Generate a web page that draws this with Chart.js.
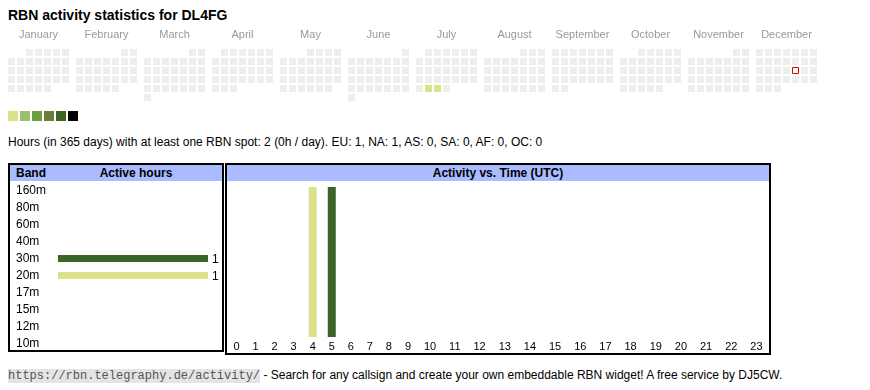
<!DOCTYPE html>
<html>
<head>
<meta charset="utf-8">
<script src="https://cdn.jsdelivr.net/npm/chart.js@4.4.1/dist/chart.umd.min.js"></script>
<style>
  body { margin: 0; background: #fff; font-family: "Liberation Sans", Arial, sans-serif; color: #000; }
  .abs { position: absolute; }
  #title { left: 8px; top: 7px; font-size: 14px; font-weight: bold; line-height: 16px; white-space: nowrap; }
  #summary { left: 8px; top: 135px; font-size: 12px; line-height: 14px; white-space: nowrap; }
  .swatch { position: absolute; top: 111px; width: 10px; height: 10px; }
  .box { position: absolute; box-sizing: border-box; border: 2px solid #000; background: #fff; }
  .head { position: absolute; left: 0; right: 0; top: 0; height: 16px; background: #aabbff; font-size: 12px; font-weight: bold; line-height: 16px; }
  .head span { position: absolute; white-space: nowrap; }
  #footer { left: 8px; top: 368px; font-size: 12px; line-height: 14px; white-space: nowrap; }
  #footer code { font-family: "Liberation Mono", "Courier New", monospace; color: #555; background: #e4e4e4; font-size: 12px; }
  canvas { position: absolute; }
</style>
</head>
<body>
<div id="title" class="abs">RBN activity statistics for DL4FG</div>
<canvas id="calendar" width="830" height="83" style="left:0px; top:26px;"></canvas>
<div id="legend"></div>
<div id="summary" class="abs">Hours (in 365 days) with at least one RBN spot: 2 (0h / day). EU: 1, NA: 1, AS: 0, SA: 0, AF: 0, OC: 0</div>

<div class="box" style="left:8px; top:163px; width:216px; height:189px;">
  <div class="head"><span style="left:6px;">Band</span><span style="left:46px; width:160px; text-align:center;">Active hours</span></div>
  <canvas id="bands" width="212" height="172" style="left:0px; top:16px;"></canvas>
</div>
<div class="box" style="left:225px; top:163px; width:546px; height:192px;">
  <div class="head"><span style="left:0; right:0; text-align:center;">Activity vs. Time (UTC)</span></div>
  <canvas id="hours" width="542" height="172" style="left:0px; top:16px;"></canvas>
</div>

<div id="footer" class="abs"><code>https://rbn.telegraphy.de/activity/</code> - Search for any callsign and create your own embeddable RBN widget! A free service by DJ5CW.</div>

<script>
// Calendar data
var year = 2025;
var monthNames = ['January', 'February', 'March', 'April', 'May', 'June', 'July',
                  'August', 'September', 'October', 'November', 'December'];
var activeDays = ['2025-07-29', '2025-07-30'];
var activeDayHours = [1, 1];
var today = '2025-12-19';
var levelColors = ['#dce28c', '#9dc168', '#6a9f44', '#687c3c', '#3c6426', '#000000'];

// Band data
var bands = ['160m', '80m', '60m', '40m', '30m', '20m', '17m', '15m', '12m', '10m'];
var bandHours = [0, 0, 0, 0, 1, 1, 0, 0, 0, 0];
var bandColors = ['#b0b0b0', '#b0b0b0', '#b0b0b0', '#b0b0b0', '#3c6426', '#dce28c',
                  '#b0b0b0', '#b0b0b0', '#b0b0b0', '#b0b0b0'];

// Activity per hour (UTC), one array per band
var hourLabels = ['0', '1', '2', '3', '4', '5', '6', '7', '8', '9', '10', '11',
                  '12', '13', '14', '15', '16', '17', '18', '19', '20', '21', '22', '23'];
var hours20m = [0, 0, 0, 0, 1, 0, 0, 0, 0, 0, 0, 0, 0, 0, 0, 0, 0, 0, 0, 0, 0, 0, 0, 0];
var hours30m = [0, 0, 0, 0, 0, 1, 0, 0, 0, 0, 0, 0, 0, 0, 0, 0, 0, 0, 0, 0, 0, 0, 0, 0];

Chart.defaults.font.family = '"Liberation Sans", Arial, sans-serif';

// calendar grid geometry
var LEFT = 8, MONTH_W = 68, PITCH = 9, CELL = 7;

function pad2(n) { return (n < 10 ? '0' : '') + n; }

var calPoints = [], calColors = [], todayPoint = [];
for (var m = 0; m < 12; m++) {
    var days = new Date(Date.UTC(year, m + 1, 0)).getUTCDate();
    var first = (new Date(Date.UTC(year, m, 1)).getUTCDay() + 6) % 7; // monday first
    for (var d = 1; d <= days; d++) {
        var idx = first + d - 1;
        var pt = {
            x: LEFT + m * MONTH_W + (idx % 7) * PITCH + CELL / 2,
            y: Math.floor(idx / 7) * PITCH + CELL / 2
        };
        var key = year + '-' + pad2(m + 1) + '-' + pad2(d);
        if (key === today) { todayPoint.push(pt); continue; }
        var a = activeDays.indexOf(key);
        calPoints.push(pt);
        calColors.push(a < 0 ? '#eeeeee' : levelColors[Math.min(activeDayHours[a], levelColors.length) - 1]);
    }
}

new Chart(document.getElementById('calendar'), {
    type: 'scatter',
    data: {
        datasets: [{
            data: calPoints,
            pointStyle: 'rect',
            pointRadius: CELL / Math.SQRT2,
            backgroundColor: calColors,
            borderWidth: 0
        }, {
            data: todayPoint,
            pointStyle: 'rect',
            pointRadius: (CELL - 1) / Math.SQRT2,
            backgroundColor: '#ffffff',
            borderColor: '#e00000',
            borderWidth: 1
        }]
    },
    options: {
        animation: false,
        responsive: false,
        events: [],
        layout: { padding: 0, autoPadding: false },
        plugins: { legend: { display: false }, tooltip: { enabled: false } },
        scales: {
            x: {
                type: 'linear', position: 'top', min: 0, max: 830,
                grid: { display: false, drawTicks: false },
                border: { display: false },
                ticks: {
                    color: '#999', font: { size: 11 }, padding: 7,
                    autoSkip: false, maxRotation: 0,
                    callback: function (v, i) { return monthNames[i]; }
                },
                afterBuildTicks: function (s) {
                    s.ticks = monthNames.map(function (n, i) {
                        return { value: LEFT + i * MONTH_W + (7 * PITCH - (PITCH - CELL)) / 2 };
                    });
                },
                afterFit: function (s) { s.height = 23; }
            },
            y: { type: 'linear', display: false, reverse: true, min: 0, max: 60 }
        }
    }
});

// colour legend
var legend = document.getElementById('legend');
levelColors.forEach(function (c, i) {
    var sw = document.createElement('div');
    sw.className = 'swatch';
    sw.style.left = (8 + i * 12) + 'px';
    sw.style.background = c;
    legend.appendChild(sw);
});

// band chart
var valueLabels = {
    id: 'valueLabels',
    afterDatasetsDraw: function (chart) {
        var ctx = chart.ctx;
        var meta = chart.getDatasetMeta(0);
        ctx.save();
        ctx.font = '12px "Liberation Sans", Arial, sans-serif';
        ctx.fillStyle = '#000';
        ctx.textBaseline = 'middle';
        meta.data.forEach(function (bar, i) {
            if (bandHours[i] > 0) ctx.fillText(String(bandHours[i]), bar.x + 4, bar.y + 1);
        });
        ctx.restore();
    }
};

new Chart(document.getElementById('bands'), {
    type: 'bar',
    data: {
        labels: bands,
        datasets: [{ data: bandHours, backgroundColor: bandColors, barThickness: 7, inflateAmount: 0 }]
    },
    options: {
        indexAxis: 'y',
        animation: false,
        responsive: false,
        events: [],
        layout: { padding: { left: 6, right: 14, top: 0, bottom: 0 } },
        plugins: { legend: { display: false }, tooltip: { enabled: false } },
        scales: {
            x: { display: false, min: 0, max: Math.max.apply(null, bandHours) },
            y: {
                grid: { display: false, drawTicks: false },
                border: { display: false },
                ticks: { crossAlign: 'far', color: '#000', font: { size: 12, lineHeight: 0.2 }, padding: 0, autoSkip: false },
                afterFit: function (s) { s.width = 42; }
            }
        }
    },
    plugins: [valueLabels]
});

// hour chart: columns sized like table cells around their labels
var mctx = document.createElement('canvas').getContext('2d');
mctx.font = '11px "Liberation Sans", Arial, sans-serif';
var hourCanvas = document.getElementById('hours');
var labelW = hourLabels.map(function (l) { return mctx.measureText(l).width; });
var totalLabel = labelW.reduce(function (a, b) { return a + b; }, 0);
var cellPad = (hourCanvas.width - totalLabel) / hourLabels.length;
var hourCenters = [], acc = 0;
labelW.forEach(function (w) { hourCenters.push(acc + (w + cellPad) / 2); acc += w + cellPad; });

function toPoints(arr) { return arr.map(function (v, i) { return { x: hourCenters[i], y: v }; }); }
var maxHour = Math.max.apply(null, hours20m.map(function (v, i) { return v + hours30m[i]; }));

new Chart(hourCanvas, {
    type: 'bar',
    data: {
        datasets: [
            { label: '20m', data: toPoints(hours20m), backgroundColor: '#dce28c', barThickness: 8, inflateAmount: 0 },
            { label: '30m', data: toPoints(hours30m), backgroundColor: '#3c6426', barThickness: 8, inflateAmount: 0 }
        ]
    },
    options: {
        animation: false,
        responsive: false,
        events: [],
        layout: { padding: { top: 6, left: 0, right: 0, bottom: 0 } },
        plugins: { legend: { display: false }, tooltip: { enabled: false } },
        scales: {
            x: {
                type: 'linear', stacked: true, offset: false,
                min: 0, max: hourCanvas.width,
                grid: { display: false, drawTicks: false },
                border: { display: false },
                ticks: {
                    color: '#000', font: { size: 11 }, padding: 3,
                    autoSkip: false, maxRotation: 0,
                    callback: function (v, i) { return hourLabels[i]; }
                },
                afterBuildTicks: function (s) {
                    s.ticks = hourCenters.map(function (c) { return { value: c }; });
                },
                afterFit: function (s) { s.height = 16; }
            },
            y: { display: false, stacked: true, min: 0, max: maxHour }
        }
    }
});
</script>
</body>
</html>
